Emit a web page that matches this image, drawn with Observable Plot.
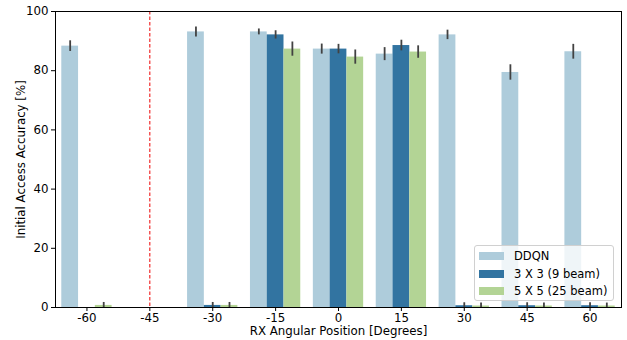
<!DOCTYPE html>
<html><head><meta charset="utf-8">
<script src="https://cdn.jsdelivr.net/npm/d3@7"></script>
<script src="https://cdn.jsdelivr.net/npm/@observablehq/plot@0.6"></script>
<style>
body{margin:0;background:#fff;font-family:"DejaVu Sans",sans-serif}
#wrap{position:relative;width:627px;height:340px}
.legend{position:absolute;left:474px;top:245px;width:140px;height:56px;background:rgba(255,255,255,0.8);border:1px solid #d0d0d0;border-radius:3px;box-sizing:border-box;font:11.5px "DejaVu Sans";color:#000}
.legend .row{position:absolute;left:4px;height:18px;display:flex;align-items:center}
.legend .sw{width:25px;height:8px;margin-right:10px}
</style></head><body><div id="wrap"></div>
<script>
const angles = [-60,-45,-30,-15,0,15,30,45,60];
const series = ["DDQN","3 X 3 (9 beam)","5 X 5 (25 beam)"];
const colors = ["#aeccdb","#3274a1","#b3d495"];
const ddqn     = [88.3,0,93.1,93.1,87.3,85.6,92.1,79.4,86.4];
const ddqnErr  = [1.8,0,1.7,1.0,1.7,2.2,1.6,2.6,2.5];
const beam9    = [0,0,0.7,92.1,87.3,88.5,0.6,0.6,0.6];
const beam9Err = [0,0,1.0,1.4,1.6,1.8,1.0,1.0,1.0];
const beam25   = [0.7,0,0.7,87.3,84.6,86.3,0.5,0.5,0.5];
const beam25Err= [1.0,0,1.0,2.4,2.4,2.1,1.0,1.0,1.0];
const vals = [ddqn, beam9, beam25];
const errs = [ddqnErr, beam9Err, beam25Err];
const w = 0.8 / series.length;
const rows = angles.flatMap((a, i) => series.map((s, k) => ({
  i, a, s, k, v: vals[k][i], e: errs[k][i]
})));
const center = d => d.i + (d.k - (series.length - 1) / 2) * w;

const chart = Plot.plot({
  width: 627, height: 340,
  marginLeft: 55, marginRight: 6, marginTop: 11, marginBottom: 33,
  style: {fontFamily: "DejaVu Sans", fontSize: "11.8px", color: "#000", background: "#fff"},
  x: {domain: [-0.5, angles.length - 0.5]},
  y: {domain: [0, 100]},
  color: {domain: series, range: colors},
  marks: [
    Plot.rectY(rows, {x1: d => center(d) - w / 2, x2: d => center(d) + w / 2, y1: 0, y2: "v", fill: "s"}),
    Plot.ruleX(rows.filter(d => d.e > 0), {x: center, y1: d => d.v - d.e, y2: d => d.v + d.e, stroke: "#424242", strokeWidth: 1.8, clip: true}),
    Plot.ruleX([angles.indexOf(-45)], {stroke: "#e00", strokeWidth: 1, strokeDasharray: "3.5,2"}),
    Plot.frame({stroke: "#000", strokeWidth: 1}),
    Plot.axisX({ticks: d3.range(angles.length), tickFormat: i => String(angles[i]), tickSize: 4, tickPadding: 2,
      label: "RX Angular Position [Degrees]", labelAnchor: "center", labelArrow: "none", labelOffset: 27}),
    Plot.axisY({ticks: [0, 20, 40, 60, 80, 100], tickSize: 4, tickPadding: 3,
      label: "Initial Access Accuracy [%]", labelAnchor: "center", labelArrow: "none", labelOffset: 38.5})
  ]
});
const wrap = document.getElementById("wrap");
wrap.appendChild(chart);
const leg = document.createElement("div");
leg.className = "legend";
series.forEach((s, k) => {
  const r = document.createElement("div");
  r.className = "row";
  r.style.top = (1 + k * 17.5) + "px";
  r.innerHTML = `<span class="sw" style="background:${colors[k]}"></span><span>${s}</span>`;
  leg.appendChild(r);
});
wrap.appendChild(leg);
</script></body></html>
